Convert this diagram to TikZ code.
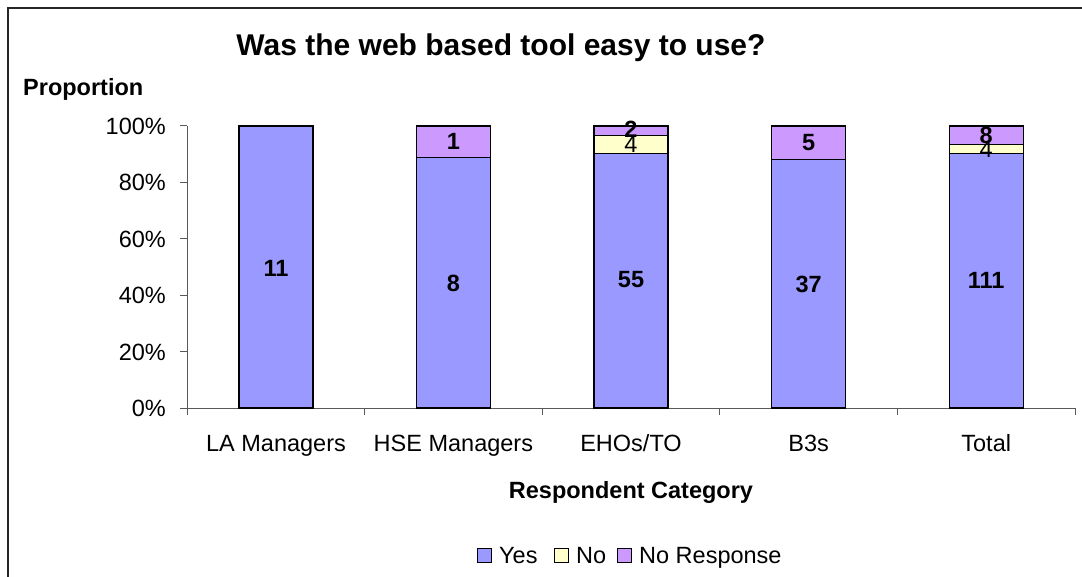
\documentclass[tikz,border=0pt]{standalone}
\usepackage{fontspec}
\setmainfont{Liberation Sans}
\definecolor{cyes}{HTML}{9999FF}
\definecolor{cno}{HTML}{FFFFCC}
\definecolor{cnr}{HTML}{CC99FF}
\begin{document}
\begin{tikzpicture}[x=1pt,y=-1pt,
  seg/.style={draw=black, line width=1.3pt},
  ax/.style={draw=black!65, line width=1pt},
  lbl/.style={font=\fontsize{23.5}{28}\selectfont, inner sep=0pt},
  blbl/.style={font=\fontsize{23.5}{28}\selectfont\bfseries, inner sep=0pt},
  legsq/.style={draw=black, line width=0.9pt},
]
\useasboundingbox (0,0) rectangle (1082,577);
\draw[line width=2pt, black!85] (8,600) -- (8,8) -- (1100,8);
% title
\node[inner sep=0pt, anchor=base, font=\fontsize{30}{36}\selectfont\bfseries] (title) at (501,55.7) {Was the web based tool easy to use?};
\node[blbl, anchor=base west] (ylab) at (23,95.5) {Proportion};
% axes
\draw[ax] (187,126) -- (187,408) -- (1075,408);
\foreach \v/\y in {0/408,20/351.6,40/295.2,60/238.8,80/182.4,100/126}{
  \draw[ax] (180,\y) -- (187,\y);
  \node[lbl, anchor=base east] (yt\v) at (166,\y+8.5) {\v\%};
}
\foreach \x in {187,364.6,542.2,719.8,897.4,1075}{
  \draw[ax] (\x,408) -- (\x,415);
}
% bars: LA
\filldraw[seg, fill=cyes] (239,408) rectangle (313,126);
% HSE
\filldraw[seg, fill=cyes] (416.4,408) rectangle (490.4,157.3);
\filldraw[seg, fill=cnr] (416.4,157.3) rectangle (490.4,126);
% EHOs
\filldraw[seg, fill=cyes] (594,408) rectangle (668,153.7);
\filldraw[seg, fill=cno] (594,153.7) rectangle (668,135.3);
\filldraw[seg, fill=cnr] (594,135.3) rectangle (668,126);
% B3s
\filldraw[seg, fill=cyes] (771.6,408) rectangle (845.6,159.6);
\filldraw[seg, fill=cnr] (771.6,159.6) rectangle (845.6,126);
% Total
\filldraw[seg, fill=cyes] (949.2,408) rectangle (1023.2,153.5);
\filldraw[seg, fill=cno] (949.2,153.5) rectangle (1023.2,144.3);
\filldraw[seg, fill=cnr] (949.2,144.3) rectangle (1023.2,126);
% labels
\node[blbl] (la) at (276,268) {11};
\node[blbl] (hse) at (453.4,283) {8};
\node[blbl] (hsenr) at (453.4,141.6) {1};
\node[blbl] (eho) at (631,280) {55};
\node[lbl] (ehono) at (631,144.5) {4};
\node[blbl] (ehonr) at (631,129) {2};
\node[blbl] (b3) at (808.6,284) {37};
\node[blbl] (b3nr) at (808.6,143) {5};
\node[blbl] (tot) at (986.2,280) {111};
\node[lbl] (totno) at (986.2,149) {4};
\node[blbl] (totnr) at (986.2,135) {8};
% categories
\node[lbl, anchor=base] (c1) at (276,451.5) {LA Managers};
\node[lbl, anchor=base] (c2) at (453.4,451.5) {HSE Managers};
\node[lbl, anchor=base] (c3) at (631,451.5) {EHOs/TO};
\node[lbl, anchor=base] (c4) at (808.6,451.5) {B3s};
\node[lbl, anchor=base] (c5) at (986.2,451.5) {Total};
\node[blbl, anchor=base] (xlab) at (631,498.5) {Respondent Category};
% legend
\filldraw[legsq, fill=cyes] (477,548) rectangle (491,562);
\node[lbl, anchor=base west] (lyes) at (499,563.5) {Yes};
\filldraw[legsq, fill=cno] (554,548) rectangle (568,562);
\node[lbl, anchor=base west] (lno) at (576,563.5) {No};
\filldraw[legsq, fill=cnr] (617,548) rectangle (631,562);
\node[lbl, anchor=base west] (lnr) at (639,563.5) {No Response};
\end{tikzpicture}
\end{document}
